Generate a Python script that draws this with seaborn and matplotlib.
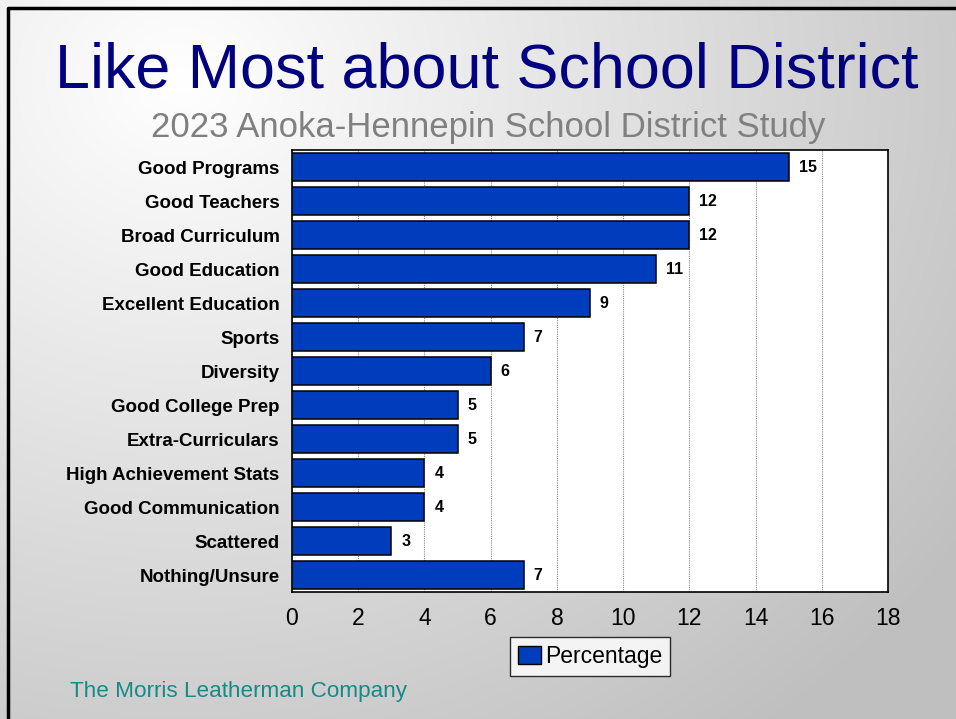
import numpy as np
import pandas as pd
import matplotlib
matplotlib.use("Agg")
import matplotlib.pyplot as plt
import seaborn as sns
from matplotlib.patches import Patch

categories = ["Good Programs", "Good Teachers", "Broad Curriculum", "Good Education",
              "Excellent Education", "Sports", "Diversity", "Good College Prep",
              "Extra-Curriculars", "High Achievement Stats", "Good Communication",
              "Scattered", "Nothing/Unsure"]
values = [15, 12, 12, 11, 9, 7, 6, 5, 5, 4, 4, 3, 7]
xticks = [0, 2, 4, 6, 8, 10, 12, 14, 16, 18]

title = "Like Most about School District"
subtitle = "2023 Anoka-Hennepin School District Study"
footer = "The Morris Leatherman Company"
series_name = "Percentage"

df = pd.DataFrame({"category": categories, "value": values})

sns.set_theme(style="white")
plt.rcParams["font.family"] = ["Liberation Sans", "DejaVu Sans"]
plt.rcParams["text.color"] = "black"
plt.rcParams["xtick.color"] = "black"
plt.rcParams["ytick.color"] = "black"

W, H = 956, 719
fig = plt.figure(figsize=(W / 100, H / 100), dpi=100)

# background gradient
bg = fig.add_axes([0, 0, 1, 1], zorder=-10)
yy, xx = np.mgrid[0:H, 0:W]
d = np.sqrt((xx - 180.0) ** 2 + ((yy - 80.0) * 1.15) ** 2)
g = 1.0 - 0.25 * np.clip(d / 950.0, 0, 1)
img = np.dstack([g, g, g])
bg.imshow(img, extent=[0, W, H, 0], aspect="auto", interpolation="bilinear")
bg.set_xlim(0, W)
bg.set_ylim(H, 0)
bg.axis("off")
bg.plot([8.5, 8.5, W], [H, 7.5, 7.5], color="black", lw=2.5, solid_capstyle="butt")

# main axes: x 292..888, y 150..592
ax = fig.add_axes([292 / W, 1 - 592 / H, (888 - 292) / W, (592 - 150) / H])
ax.set_facecolor("white")
sns.barplot(data=df, x="value", y="category", orient="h", color="#003DBD",
            saturation=1, width=0.85, edgecolor="black", linewidth=1.1, ax=ax, zorder=3)
ax.set_xlim(0, 18)
ax.set_xticks(xticks)
ax.set_xticklabels([str(t) for t in xticks], fontsize=16.5)
ax.set_xlabel("")
ax.set_ylabel("")
ax.tick_params(axis="y", labelsize=13.5, length=0, pad=9, labelcolor="black")
ax.tick_params(axis="x", length=0, pad=11, labelcolor="black")
for lab in ax.get_yticklabels():
    lab.set_fontweight("bold")
ax.xaxis.grid(True, color="#888888", linestyle=(0, (1, 1)), linewidth=0.8, zorder=0)
ax.set_axisbelow(True)
for s in ax.spines.values():
    s.set_color("black")
    s.set_linewidth(1.2)

for i, v in enumerate(values):
    ax.text(v + 0.3, i, str(v), va="center", ha="left", fontsize=11.5,
            fontweight="bold", color="black", zorder=5)

leg = ax.legend(handles=[Patch(facecolor="#003DBD", edgecolor="black", label=series_name)],
                loc="upper center", bbox_to_anchor=(0.5, -0.102), fontsize=16.5,
                frameon=True, fancybox=False, handlelength=1.0, handleheight=0.8,
                handletextpad=0.2, borderpad=0.35, borderaxespad=0)
leg.get_frame().set_edgecolor("black")
leg.get_frame().set_facecolor("white")
leg.get_frame().set_linewidth(1.0)
for t in leg.get_texts():
    t.set_color("black")

fig.text(487 / W, 1 - 88 / H, title, ha="center", va="baseline", fontsize=45.3, color="#000080")
fig.text(488 / W, 1 - 137 / H, subtitle, ha="center", va="baseline", fontsize=25, color="#808080")
fig.text(70 / W, 1 - 692 / H, footer, ha="left", va="center", fontsize=16.2, color="#178A87")

fig.savefig("out.png", dpi=100)
